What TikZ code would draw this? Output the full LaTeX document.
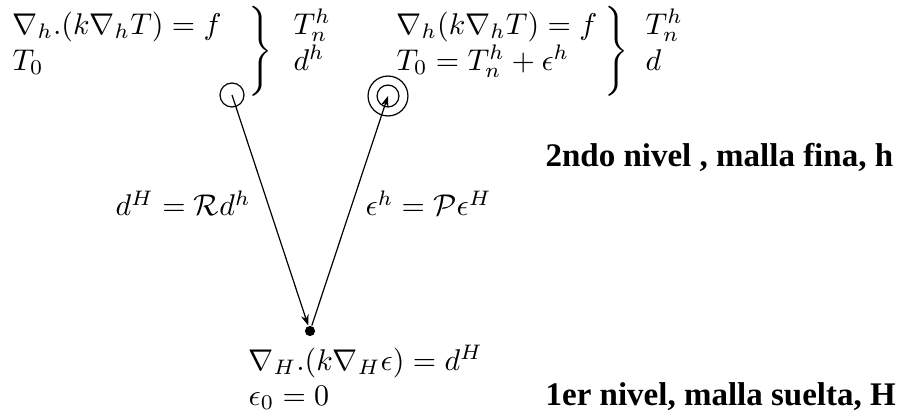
\documentclass[tikz,border=0pt]{standalone}
\usepackage{fontspec}
\newfontfamily\timesfont{Liberation Serif}
\usetikzlibrary{arrows.meta}
\begin{document}
\begin{tikzpicture}[x=0.3333pt, y=-0.3333pt, ->, >={Stealth[length=3.6pt, width=2.6pt]}, thin,
        eq/.style={anchor=base west, inner sep=0pt},
        niveau/.style={anchor=base west, inner sep=0pt, font=\timesfont\bfseries\fontsize{11}{13}\selectfont},
        accolade/.style={inner sep=0pt}]
        \useasboundingbox (0,0) rectangle (900,414);

        % Niveau fin, gauche
        \node[eq] (L1) at (12,34) {$\nabla_h.(k\nabla_h T) = f$};
        \node[eq] (L2) at (12,70) {$T_0$};
        \node[accolade] (Lb) at (259,51) {$\left.\vrule height 11pt depth 11pt width 0pt\right\}$};
        \node[eq] (L3) at (293,34) {$T_n^h$};
        \node[eq] (L4) at (293,70) {$d^h$};

        % Niveau fin, droite
        \node[eq] (R1) at (396,34) {$\nabla_h(k\nabla_h T) = f$};
        \node[eq] (R2) at (396,70) {$T_0 = T_n^h + \epsilon^h$};
        \node[accolade] (Rb) at (615,51) {$\left.\vrule height 11pt depth 11pt width 0pt\right\}$};
        \node[eq] (R3) at (645,34) {$T_n^h$};
        \node[eq] (R4) at (645,70) {$d$};

        % Points de la grille
        \node[circle, draw, minimum size=8pt, inner sep=0pt] (cg) at (232,95) {};
        \node[circle, draw, minimum size=13.3pt, inner sep=0pt] (cdo) at (388,96) {};
        \node[circle, draw, minimum size=7.3pt, inner sep=0pt] (cdi) at (388,96) {};
        \node[circle, fill, minimum size=3.4pt, inner sep=0pt] (pt) at (310,331) {};

        % Restriction et prolongation
        \draw (cg.center) -- (pt);
        \draw (pt) -- (cdi.center);
        \node[eq] (lr) at (115,216) {$d^H = \mathcal{R}d^h$};
        \node[eq] (lp) at (365,216) {$\epsilon^h = \mathcal{P}\epsilon^H$};

        % Niveau grossier
        \node[eq] (B1) at (248,370) {$\nabla_H.(k\nabla_H\epsilon) = d^H$};
        \node[eq] (B2) at (248,405) {$\epsilon_0 = 0$};

        % Etiquettes des niveaux
        \node[niveau] (N2) at (545,167) {2ndo nivel , malla fina, h};
        \node[niveau] (N1) at (545,405) {1er nivel, malla suelta, H};
\end{tikzpicture}
\end{document}
